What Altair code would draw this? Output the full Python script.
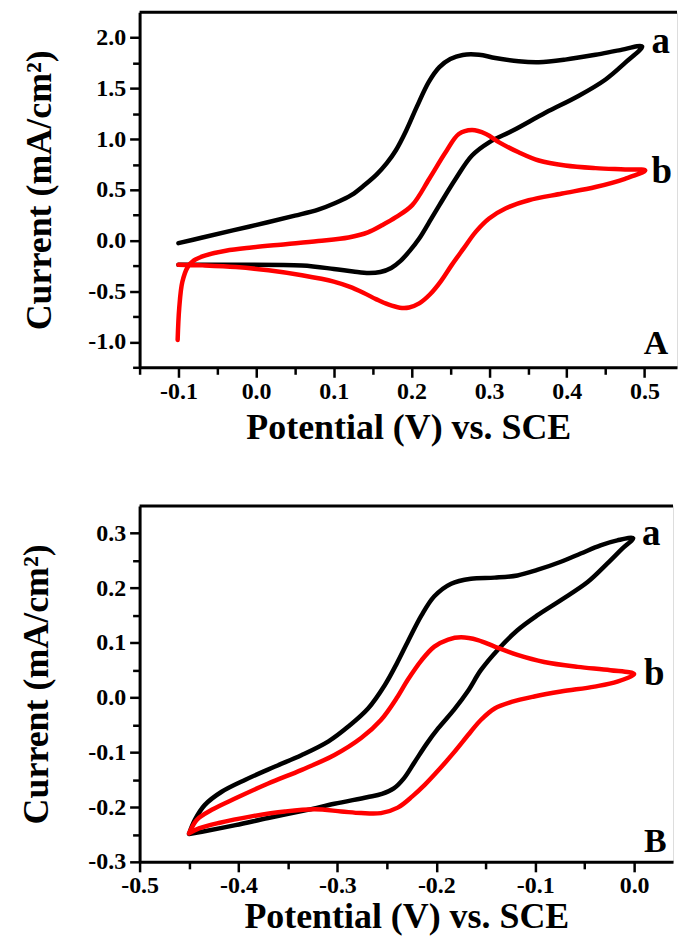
import altair as alt
import pandas as pd
import numpy as np

# ---- Panel A: cyclic voltammograms, potential window -0.1 .. 0.5 V ----
A_a_x = [-0.100, -0.069, -0.030, 0.015, 0.050, 0.080, 0.102, 0.123, 0.140, 0.155,
         0.168, 0.180, 0.193, 0.207, 0.222, 0.236, 0.250, 0.266, 0.287, 0.308,
         0.338, 0.364, 0.398, 0.437, 0.467, 0.497,
         0.475, 0.450, 0.415, 0.373, 0.330, 0.300, 0.278, 0.257, 0.236, 0.222,
         0.210, 0.198, 0.186, 0.174, 0.160, 0.145, 0.125, 0.100, 0.059, -0.026,
         -0.100]
A_a_y = [-0.026, 0.030, 0.100, 0.180, 0.245, 0.305, 0.370, 0.450, 0.550, 0.650,
         0.760, 0.890, 1.080, 1.320, 1.560, 1.710, 1.790, 1.830, 1.832, 1.800,
         1.767, 1.758, 1.784, 1.832, 1.875, 1.914,
         1.751, 1.588, 1.425, 1.262, 1.082, 0.968, 0.838, 0.609, 0.349, 0.170,
         0.020, -0.100, -0.200, -0.270, -0.310, -0.320, -0.305, -0.280, -0.247, -0.239,
         -0.239]

A_b_x = [-0.101, -0.099, -0.095, -0.088, -0.080, -0.065, -0.039, -0.006, 0.038, 0.080,
         0.119, 0.144, 0.162, 0.180, 0.201, 0.223, 0.244, 0.261, 0.278, 0.296,
         0.313, 0.338, 0.364, 0.398, 0.437, 0.475, 0.501,
         0.475, 0.437, 0.394, 0.351, 0.321, 0.300, 0.283, 0.267, 0.252, 0.238,
         0.224, 0.210, 0.197, 0.185, 0.170, 0.155, 0.138, 0.120, 0.100, 0.059,
         0.016, -0.026, -0.069, -0.100]
A_b_y = [-0.980, -0.670, -0.410, -0.261, -0.196, -0.147, -0.100, -0.068, -0.036, -0.005,
         0.030, 0.080, 0.150, 0.230, 0.349, 0.609, 0.870, 1.050, 1.089, 1.050,
         0.968, 0.870, 0.789, 0.740, 0.714, 0.701, 0.691,
         0.609, 0.528, 0.463, 0.397, 0.316, 0.218, 0.088, -0.080, -0.240, -0.400,
         -0.530, -0.620, -0.660, -0.662, -0.630, -0.580, -0.515, -0.455, -0.405, -0.343,
         -0.294, -0.261, -0.245, -0.239]

# ---- Panel B: cyclic voltammograms, potential window -0.45 .. 0.0 V ----
B_a_x = [-0.450, -0.444, -0.434, -0.417, -0.393, -0.363, -0.336, -0.309, -0.289, -0.269,
         -0.252, -0.240, -0.228, -0.215, -0.202, -0.185, -0.165, -0.141, -0.118, -0.098,
         -0.074, -0.054, -0.034, -0.017, -0.001,
         -0.012, -0.027, -0.047, -0.074, -0.098, -0.118, -0.138, -0.155, -0.168, -0.182,
         -0.198, -0.210, -0.222, -0.233, -0.243, -0.255, -0.270, -0.303, -0.330, -0.370,
         -0.403, -0.437, -0.450]
B_a_y = [-0.249, -0.223, -0.196, -0.172, -0.150, -0.126, -0.105, -0.080, -0.053, -0.020,
         0.023, 0.062, 0.105, 0.150, 0.185, 0.208, 0.217, 0.219, 0.223, 0.233,
         0.248, 0.263, 0.278, 0.287, 0.291,
         0.272, 0.245, 0.211, 0.178, 0.150, 0.123, 0.087, 0.050, 0.012, -0.022,
         -0.056, -0.085, -0.118, -0.148, -0.166, -0.176, -0.182, -0.194, -0.205, -0.220,
         -0.233, -0.245, -0.249]

B_b_x = [-0.450, -0.442, -0.427, -0.403, -0.370, -0.336, -0.303, -0.276, -0.256, -0.239,
         -0.229, -0.215, -0.202, -0.188, -0.175, -0.158, -0.141, -0.118, -0.091, -0.057,
         -0.024, 0.000,
         -0.017, -0.040, -0.074, -0.101, -0.124, -0.141, -0.155, -0.165, -0.183, -0.200,
         -0.212, -0.224, -0.239, -0.256, -0.276, -0.296, -0.323, -0.353, -0.387, -0.420,
         -0.440, -0.450]
B_b_y = [-0.248, -0.223, -0.205, -0.184, -0.157, -0.132, -0.105, -0.074, -0.041, 0.002,
         0.032, 0.068, 0.093, 0.106, 0.110, 0.105, 0.093, 0.078, 0.065, 0.056,
         0.050, 0.043,
         0.029, 0.020, 0.011, 0.002, -0.008, -0.020, -0.041, -0.062, -0.102, -0.137,
         -0.160, -0.180, -0.201, -0.211, -0.211, -0.208, -0.204, -0.208, -0.217, -0.229,
         -0.239, -0.248]

SERIES = ["a", "b"]
COLORS = ["#000000", "#ff0000"]

FONT = "Liberation Serif"
MINUS = "\u2212"


def steps(lo, hi, step):
    n = int(round((hi - lo) / step))
    return [round(lo + i * step, 4) for i in range(n + 1)]


def curves(ax, ay, bx, by):
    rows = []
    for name, xs, ys in (("a", ax, ay), ("b", bx, by)):
        for i, (x, y) in enumerate(zip(xs, ys)):
            rows.append({"potential": x, "current": y, "curve": name, "idx": i})
    return pd.DataFrame(rows)


def major_test(mult):
    return f"abs(datum.value*{mult} - round(datum.value*{mult})) < 0.001"


def label_expr(mult):
    return (f"{major_test(mult)} ? replace(format(datum.value, '.1f'), '{MINUS}', '-') : ''")


def axis(values, mult, title, **kw):
    return alt.Axis(
        values=values, tickCount=len(values) + 2,
        labelExpr=label_expr(mult), title=title,
        grid=False, labelOverlap=False, labelFlush=False,
        domainColor="black", domainWidth=3,
        tickColor="black", tickWidth=2.5,
        tickSize={"condition": {"test": major_test(mult), "value": 10}, "value": 7},
        labelFont=FONT, labelFontSize=24, labelFontWeight="bold", labelColor="black",
        titleFont=FONT, titleFontWeight="bold", titleColor="black",
        **kw,
    )


def panel(df, xdom, ydom, w, h, xticks, xmult, yticks, ymult, ytitle_x,
          xtitle_dy, tags, letter):
    x_scale = alt.Scale(domain=xdom, nice=False, zero=False)
    y_scale = alt.Scale(domain=ydom, nice=False, zero=False)

    lines = alt.Chart(df).mark_line(
        strokeWidth=4.5, interpolate="catmull-rom", strokeJoin="round", strokeCap="round"
    ).encode(
        x=alt.X("potential:Q", scale=x_scale,
                axis=axis(xticks, xmult, "Potential (V) vs. SCE", labelPadding=2,
                          titleFontSize=36, titleY=xtitle_dy,
                          titleBaseline="alphabetic")),
        y=alt.Y("current:Q", scale=y_scale,
                axis=axis(yticks, ymult, "Current (mA/cm\u00b2)", labelPadding=4,
                          titleFontSize=36, titleX=ytitle_x, titleY=h / 2,
                          titleAngle=-90, titleAlign="center", titleBaseline="middle")),
        color=alt.Color("curve:N", scale=alt.Scale(domain=SERIES, range=COLORS), legend=None),
        order="idx:Q",
    )

    # frame line along the top of the plot area
    top = alt.Chart(pd.DataFrame({"k": [0]})).mark_rule(
        color="black", strokeWidth=3
    ).encode(x=alt.value(0), x2=alt.value(w), y=alt.value(0))

    tag_df = pd.DataFrame(tags)
    curve_tags = alt.Chart(tag_df).mark_text(
        font=FONT, fontWeight="bold", fontSize=37, align="left", baseline="alphabetic",
        color="black"
    ).encode(x=alt.X("x:Q", scale=x_scale), y=alt.Y("y:Q", scale=y_scale), text="t:N")

    panel_tag = alt.Chart(pd.DataFrame([letter])).mark_text(
        font=FONT, fontWeight="bold", fontSize=34, align="left", baseline="alphabetic",
        color="black"
    ).encode(x=alt.X("x:Q", scale=x_scale), y=alt.Y("y:Q", scale=y_scale), text="t:N")

    return alt.layer(top, lines, curve_tags, panel_tag).properties(width=w, height=h)


WA, HA = 539, 356
WB, HB = 535, 357

chart_a = panel(
    curves(A_a_x, A_a_y, A_b_x, A_b_y),
    [-0.15, -0.15 + WA / 779.0], [-1.25, 2.25], WA, HA,
    steps(-0.15, 0.50, 0.05), 10, steps(-1.25, 2.0, 0.25), 2,
    -100.5, 71,
    [{"x": 0.509, "y": 1.852, "t": "a"}, {"x": 0.509, "y": 0.57, "t": "b"}],
    {"x": 0.499, "y": -1.123, "t": "A"},
)

chart_b = panel(
    curves(B_a_x, B_a_y, B_b_x, B_b_y),
    [-0.5, -0.5 + WB / 992.0], [-0.3, 0.35], WB, HB,
    steps(-0.5, 0.0, 0.05), 10, steps(-0.3, 0.30, 0.05), 10,
    -103.5, 66,
    [{"x": 0.008, "y": 0.278, "t": "a"}, {"x": 0.010, "y": 0.023, "t": "b"}],
    {"x": 0.010, "y": -0.282, "t": "B"},
)

chart = alt.concat(chart_a, chart_b, columns=1, spacing=58).properties(
    align="none", bounds="full",
    padding={"left": 17, "top": 9, "right": 0, "bottom": 0},
).configure_view(strokeWidth=0).configure(background="white")

chart.save("out.html", embed_options={"renderer": "svg", "actions": False})
